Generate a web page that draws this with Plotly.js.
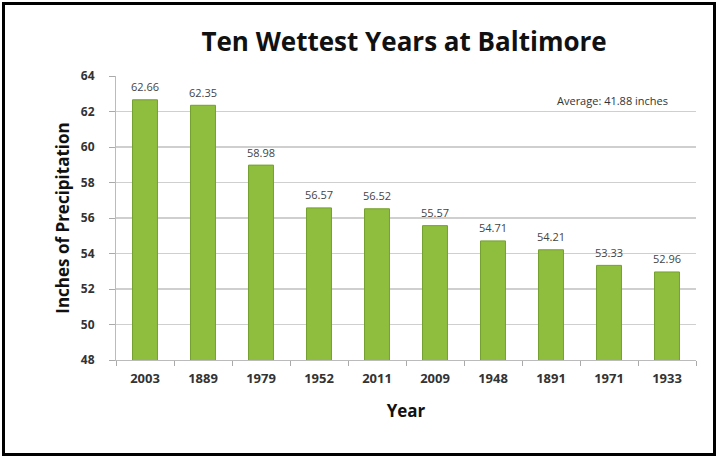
<!DOCTYPE html>
<html>
<head>
<meta charset="utf-8">
<script src="https://cdn.plot.ly/plotly-3.0.1.min.js"></script>
<style>
  html, body { margin: 0; padding: 0; background: #fff; }
  #wrap { position: relative; width: 719px; height: 458px; }
  #chart { width: 719px; height: 458px; }
  #frame { position: absolute; left: 2px; top: 2px; width: 708px; height: 448px;
           border: 3px solid #000; pointer-events: none; }
</style>
</head>
<body>
<div id="wrap">
  <div id="chart"></div>
  <div id="frame"></div>
</div>
<script>
const years = ["2003", "1889", "1979", "1952", "2011", "2009", "1948", "1891", "1971", "1933"];
const inches = [62.66, 62.35, 58.98, 56.57, 56.52, 55.57, 54.71, 54.21, 53.33, 52.96];
const valueLabels = ["62.66", "62.35", "58.98", "56.57", "56.52", "55.57", "54.71", "54.21", "53.33", "52.96"];
const yTicks = [48, 50, 52, 54, 56, 58, 60, 62, 64];
const titleText = "Ten Wettest Years at Baltimore";
const xTitle = "Year";
const yTitle = "Inches of Precipitation";
const averageNote = "Average: 41.88 inches";

const font = "'Open Sans', 'DejaVu Sans', sans-serif";

const trace = {
  type: "bar",
  x: years,
  y: inches,
  marker: { color: "#8fbd3d", line: { color: "#74a02e", width: 1 } },
  hoverinfo: "skip"
};

// category index positions for the value labels
const annotations = years.map((yr, i) => ({
  x: i, y: inches[i], xref: "x", yref: "y",
  text: valueLabels[i], showarrow: false, yshift: 13,
  font: { family: font, size: 11, color: "#444" }
}));
annotations.push({
  xref: "paper", yref: "paper", x: 0.955, y: 0.915, xanchor: "right", yanchor: "middle",
  text: averageNote, showarrow: false,
  font: { family: font, size: 11, color: "#333" }
});

const layout = {
  width: 719, height: 458,
  margin: { l: 116, r: 23, t: 76, b: 98 },
  paper_bgcolor: "#fff", plot_bgcolor: "#fff",
  showlegend: false,
  bargap: 0.57,
  title: {
    text: "<b>" + titleText + "</b>",
    xref: "container", yref: "container",
    x: 0.562, xanchor: "center", y: 0.908, yanchor: "middle",
    font: { family: font, size: 26, color: "#111" }
  },
  xaxis: {
    type: "category",
    categoryorder: "array", categoryarray: years,
    range: [-0.5, 9.5],
    tickangle: 0,
    tickson: "boundaries",
    ticks: "outside", ticklen: 5, tickcolor: "#aaa",
    ticklabelstandoff: 6,
    showline: true, linecolor: "#bbb", linewidth: 1,
    showgrid: false,
    tickfont: { family: font, size: 13, color: "#333", weight: "bold" },
    title: { text: "<b>" + xTitle + "</b>", standoff: 19,
             font: { family: font, size: 17, color: "#111" } }
  },
  yaxis: {
    range: [48, 64],
    tickvals: yTicks,
    ticks: "outside", ticklen: 6, tickcolor: "#aaa",
    ticklabelstandoff: 12,
    showline: true, linecolor: "#bbb", linewidth: 1,
    showgrid: true, gridcolor: "#cfcfcf", gridwidth: 1.5,
    zeroline: false,
    tickfont: { family: font, size: 12, color: "#333", weight: "bold" },
    title: { text: "<b>" + yTitle + "</b>", standoff: 6,
             font: { family: font, size: 17, color: "#111" } }
  },
  annotations: annotations
};

Plotly.newPlot("chart", [trace], layout, { displayModeBar: false, staticPlot: true });
</script>
</body>
</html>
